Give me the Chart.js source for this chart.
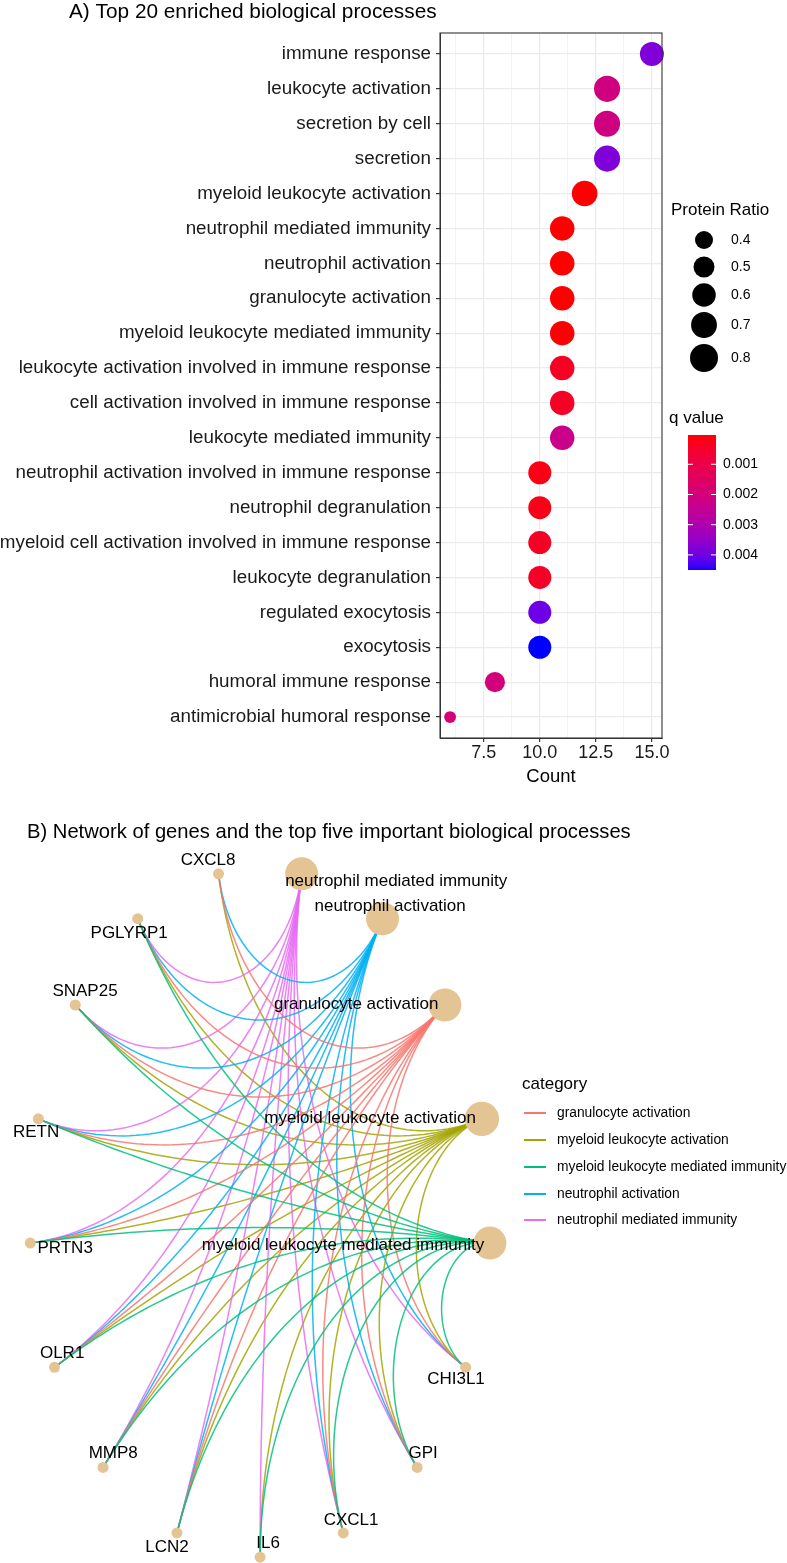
<!DOCTYPE html>
<html>
<head>
<meta charset="utf-8">
<script src="https://cdn.jsdelivr.net/npm/chart.js@4.4.0/dist/chart.umd.min.js"></script>
<style>
    html, body { margin: 0; padding: 0; background: #fff; }
    #wrap { position: relative; width: 787px; height: 1563px; }
    canvas { position: absolute; left: 0; }
    #dotChart { top: 0; }
    #netChart { top: 790px; }
</style>
</head>
<body>
<div id="wrap">
    <canvas id="dotChart" width="787" height="790"></canvas>
    <canvas id="netChart" width="787" height="773"></canvas>
</div>
<script>
// ---------- Panel A data ----------
const processes = [
    'immune response', 'leukocyte activation', 'secretion by cell', 'secretion',
    'myeloid leukocyte activation', 'neutrophil mediated immunity', 'neutrophil activation',
    'granulocyte activation', 'myeloid leukocyte mediated immunity',
    'leukocyte activation involved in immune response', 'cell activation involved in immune response',
    'leukocyte mediated immunity', 'neutrophil activation involved in immune response',
    'neutrophil degranulation', 'myeloid cell activation involved in immune response',
    'leukocyte degranulation', 'regulated exocytosis', 'exocytosis',
    'humoral immune response', 'antimicrobial humoral response'
];
const counts = [15, 13, 13, 13, 12, 11, 11, 11, 11, 11, 11, 11, 10, 10, 10, 10, 10, 10, 8, 6];
const proteinRatio = [0.62, 0.71, 0.71, 0.71, 0.69, 0.64, 0.64, 0.64, 0.64, 0.64, 0.64, 0.64,
                      0.58, 0.58, 0.58, 0.58, 0.58, 0.58, 0.47, 0.24];
const qValues = [0.0038, 0.0021, 0.0021, 0.0038, 0.00006, 0.00003, 0.00003, 0.00004, 0.00006,
                 0.00038, 0.0004, 0.0023, 0.0002, 0.00022, 0.00042, 0.00044, 0.004, 0.0045,
                 0.002, 0.0019];
const countMajorTicks = [7.5, 10, 12.5, 15];
const countMinorTicks = [6.25, 8.75, 11.25, 13.75];
const ratioKeys = [0.4, 0.5, 0.6, 0.7, 0.8];
const qKeys = [0.001, 0.002, 0.003, 0.004];

// ---------- Panel B data ----------
const genes = ['CXCL8', 'PGLYRP1', 'SNAP25', 'RETN', 'PRTN3', 'OLR1', 'MMP8', 'LCN2', 'IL6', 'CXCL1', 'GPI', 'CHI3L1'];
const geneX = [-0.18, -0.53, -0.80, -0.96, -0.995, -0.89, -0.68, -0.36, 0.0, 0.36, 0.68, 0.89];
const geneY = [0.98, 0.85, 0.60, 0.27, -0.09, -0.45, -0.74, -0.93, -1.0, -0.93, -0.74, -0.45];
const geneLabelX = [-0.225, -0.567, -0.758, -0.970, -0.844, -0.857, -0.636, -0.403, 0.035, 0.394, 0.706, 0.848];
const geneLabelY = [1.020, 0.809, 0.641, 0.232, -0.104, -0.409, -0.699, -0.971, -0.959, -0.893, -0.699, -0.484];

const terms = ['neutrophil mediated immunity', 'neutrophil activation', 'granulocyte activation',
               'myeloid leukocyte activation', 'myeloid leukocyte mediated immunity'];
const termX = [0.18, 0.53, 0.80, 0.96, 0.995];
const termY = [0.98, 0.85, 0.60, 0.27, -0.09];
const termCount = [11, 11, 11, 12, 11];
const termLabelX = [0.589, 0.563, 0.416, 0.476, 0.359];
const termLabelY = [0.959, 0.887, 0.603, 0.272, -0.096];

const allGenes = genes.slice();
const nmiGenes = genes.filter(g => g !== 'CXCL8');
const naGenes = genes.filter(g => g !== 'IL6');
const gaGenes = genes.filter(g => g !== 'IL6');
const mlaGenes = allGenes;
const mlmiGenes = genes.filter(g => g !== 'CXCL8');
const termGenes = [nmiGenes, naGenes, gaGenes, mlaGenes, mlmiGenes];

const legendTerms = ['granulocyte activation', 'myeloid leukocyte activation',
                     'myeloid leukocyte mediated immunity', 'neutrophil activation', 'neutrophil mediated immunity'];
const legendColors = ['#F8766D', '#A3A500', '#00BF7D', '#00B0F6', '#E76BF3'];

const FONT = '"Liberation Sans", Arial, Helvetica, sans-serif';

// ---------- helpers ----------
function ratioRadius(v) {
    return Math.sqrt(Math.max(4, 81 + 287 * (v - 0.4)));
}

function toLab(rgb) {
    const lin = rgb.map(c => {
        c /= 255;
        return c <= 0.04045 ? c / 12.92 : Math.pow((c + 0.055) / 1.055, 2.4);
    });
    let X = (0.4124 * lin[0] + 0.3576 * lin[1] + 0.1805 * lin[2]) / 0.95047;
    let Y = 0.2126 * lin[0] + 0.7152 * lin[1] + 0.0722 * lin[2];
    let Z = (0.0193 * lin[0] + 0.1192 * lin[1] + 0.9505 * lin[2]) / 1.08883;
    const f = t => t > 0.008856 ? Math.cbrt(t) : 7.787 * t + 16 / 116;
    const fx = f(X), fy = f(Y), fz = f(Z);
    return [116 * fy - 16, 500 * (fx - fy), 200 * (fy - fz)];
}

function fromLab(lab) {
    const fy = (lab[0] + 16) / 116, fx = fy + lab[1] / 500, fz = fy - lab[2] / 200;
    const inv = t => t > 0.206893 ? t * t * t : (t - 16 / 116) / 7.787;
    const X = inv(fx) * 0.95047, Y = inv(fy), Z = inv(fz) * 1.08883;
    const lin = [
        3.2406 * X - 1.5372 * Y - 0.4986 * Z,
        -0.9689 * X + 1.8758 * Y + 0.0415 * Z,
        0.0557 * X - 0.2040 * Y + 1.0570 * Z
    ];
    return lin.map(c => {
        c = Math.min(1, Math.max(0, c));
        c = c <= 0.0031308 ? 12.92 * c : 1.055 * Math.pow(c, 1 / 2.4) - 0.055;
        return Math.round(c * 255);
    });
}

const labLow = toLab([255, 0, 0]);
const labHigh = toLab([0, 0, 255]);
const qMin = Math.min(...qValues);
const qMax = Math.max(...qValues);

function qColor(q) {
    const t = Math.min(1, Math.max(0, (q - qMin) / (qMax - qMin)));
    const c = fromLab(labLow.map((v, i) => v + (labHigh[i] - v) * t));
    return `rgb(${c[0]},${c[1]},${c[2]})`;
}

// ---------- Panel A ----------
const panelA = {
    id: 'panelA',
    afterDraw(chart) {
        const ctx = chart.ctx;
        const area = chart.chartArea;
        ctx.save();
        // panel border
        ctx.strokeStyle = '#333';
        ctx.lineWidth = 1.1;
        ctx.strokeRect(area.left, area.top, area.right - area.left, area.bottom - area.top);

        // title
        ctx.fillStyle = '#000';
        ctx.font = `20.8px ${FONT}`;
        ctx.textAlign = 'left';
        ctx.textBaseline = 'alphabetic';
        ctx.fillText('A) Top 20 enriched biological processes', 69, 18);

        // size legend
        ctx.font = `17px ${FONT}`;
        ctx.textBaseline = 'middle';
        ctx.fillText('Protein Ratio', 671, 210);
        const keyY = [240, 267, 295, 325, 358];
        ctx.font = `14px ${FONT}`;
        ratioKeys.forEach((v, i) => {
            ctx.fillStyle = '#000';
            ctx.beginPath();
            ctx.arc(704, keyY[i], ratioRadius(v), 0, Math.PI * 2);
            ctx.fill();
            ctx.fillText(v.toFixed(1), 731, keyY[i]);
        });

        // colour bar
        ctx.font = `17px ${FONT}`;
        ctx.fillText('q value', 669, 418);
        const barTop = 435, barBottom = 570, barLeft = 688, barRight = 716;
        for (let y = barTop; y < barBottom; y++) {
            const q = qMin + (qMax - qMin) * (y + 0.5 - barTop) / (barBottom - barTop);
            ctx.fillStyle = qColor(q);
            ctx.fillRect(barLeft, y, barRight - barLeft, 1);
        }
        ctx.font = `14px ${FONT}`;
        qKeys.forEach(q => {
            const y = barTop + (q - qMin) / (qMax - qMin) * (barBottom - barTop);
            ctx.strokeStyle = '#fff';
            ctx.lineWidth = 1;
            ctx.beginPath();
            ctx.moveTo(barLeft, y); ctx.lineTo(barLeft + 5, y);
            ctx.moveTo(barRight - 5, y); ctx.lineTo(barRight, y);
            ctx.stroke();
            ctx.fillStyle = '#000';
            ctx.fillText(q.toFixed(3), 723, y);
        });
        ctx.restore();
    }
};

new Chart(document.getElementById('dotChart'), {
    type: 'bubble',
    data: {
        datasets: [{
            data: processes.map((p, i) => ({ x: counts[i], y: i, r: ratioRadius(proteinRatio[i]) })),
            backgroundColor: qValues.map(qColor),
            borderWidth: 0,
            hoverBorderWidth: 0,
            clip: false
        }]
    },
    options: {
        responsive: false,
        animation: false,
        devicePixelRatio: 1,
        events: [],
        layout: { padding: { top: 33, right: 125, left: 0, bottom: 0 } },
        plugins: { legend: { display: false }, tooltip: { enabled: false } },
        scales: {
            x: {
                type: 'linear',
                min: 5.55,
                max: 15.45,
                afterBuildTicks: axis => {
                    axis.ticks = countMinorTicks.concat(countMajorTicks).sort((a, b) => a - b).map(v => ({ value: v }));
                },
                afterFit: axis => { axis.height = 52; },
                ticks: {
                    autoSkip: false,
                    maxRotation: 0,
                    padding: 0,
                    color: '#1a1a1a',
                    font: { family: FONT, size: 18 },
                    callback: v => countMajorTicks.includes(v) ? v.toFixed(1) : ''
                },
                grid: {
                    color: '#EBEBEB',
                    lineWidth: c => countMajorTicks.includes(c.tick && c.tick.value) ? 1.2 : 0.6,
                    tickColor: c => countMajorTicks.includes(c.tick && c.tick.value) ? '#333' : 'rgba(0,0,0,0)',
                    tickLength: 4
                },
                border: { display: true, color: '#333', width: 1 },
                title: {
                    display: true,
                    text: 'Count',
                    color: '#000',
                    font: { family: FONT, size: 18.5 },
                    padding: { top: 0, bottom: 2 }
                }
            },
            y: {
                type: 'linear',
                reverse: true,
                min: -0.6,
                max: 19.6,
                afterBuildTicks: axis => {
                    axis.ticks = processes.map((p, i) => ({ value: i }));
                },
                afterFit: axis => { axis.width = 440; },
                ticks: {
                    autoSkip: false,
                    padding: 5,
                    color: '#1a1a1a',
                    font: { family: FONT, size: 18.8 },
                    callback: v => processes[v]
                },
                grid: { color: '#EBEBEB', lineWidth: 1.2, tickColor: '#333', tickLength: 4 },
                border: { display: true, color: '#333', width: 1 }
            }
        }
    },
    plugins: [panelA]
});

// ---------- Panel B ----------
function arcPoints(ax, ay, bx, by) {
    // circle arc orthogonal to the layout circle, as in a circular arc layout
    const a0 = Math.atan2(ay, ax), b0 = Math.atan2(by, bx);
    const ux = Math.cos(a0), uy = Math.sin(a0), vx = Math.cos(b0), vy = Math.sin(b0);
    const sx = ux + vx, sy = uy + vy, len = Math.hypot(sx, sy);
    const n = 60;
    const pts = [];
    if (len < 0.02) {
        for (let i = 0; i <= n; i++) {
            const t = i / n;
            pts.push([ax + (bx - ax) * t, ay + (by - ay) * t]);
        }
        return pts;
    }
    const cosT = len / 2;
    const ox = (sx / len) / cosT, oy = (sy / len) / cosT;
    const R = Math.sqrt(1 / (cosT * cosT) - 1);
    const s0 = Math.atan2(uy - oy, ux - ox), s1 = Math.atan2(vy - oy, vx - ox);
    let d = s1 - s0;
    while (d > Math.PI) d -= 2 * Math.PI;
    while (d < -Math.PI) d += 2 * Math.PI;
    for (let i = 0; i <= n; i++) {
        const t = i / n;
        const ang = s0 + d * t;
        let px = ox + R * Math.cos(ang), py = oy + R * Math.sin(ang);
        px += (ax - ux) * (1 - t) + (bx - vx) * t;
        py += (ay - uy) * (1 - t) + (by - vy) * t;
        pts.push([px, py]);
    }
    return pts;
}

function termColor(term) {
    return legendColors[legendTerms.indexOf(term)];
}

const edgeOrder = [3, 0, 1, 2, 4];

const panelB = {
    id: 'panelB',
    beforeDatasetsDraw(chart) {
        const ctx = chart.ctx;
        const xs = chart.scales.x, ys = chart.scales.y;
        ctx.save();
        ctx.lineWidth = 1.5;
        ctx.globalAlpha = 0.85;
        edgeOrder.forEach(ti => {
            ctx.strokeStyle = termColor(terms[ti]);
            termGenes[ti].forEach(g => {
                const gi = genes.indexOf(g);
                const pts = arcPoints(geneX[gi], geneY[gi], termX[ti], termY[ti]);
                ctx.beginPath();
                pts.forEach((p, k) => {
                    const px = xs.getPixelForValue(p[0]), py = ys.getPixelForValue(p[1]);
                    if (k === 0) ctx.moveTo(px, py); else ctx.lineTo(px, py);
                });
                ctx.stroke();
            });
        });
        ctx.restore();
    },
    afterDraw(chart) {
        const ctx = chart.ctx;
        const xs = chart.scales.x, ys = chart.scales.y;
        ctx.save();
        ctx.fillStyle = '#000';
        ctx.textAlign = 'center';
        ctx.textBaseline = 'middle';
        ctx.font = `17px ${FONT}`;
        genes.forEach((g, i) => {
            ctx.fillText(g, xs.getPixelForValue(geneLabelX[i]), ys.getPixelForValue(geneLabelY[i]));
        });
        terms.forEach((t, i) => {
            ctx.fillText(t, xs.getPixelForValue(termLabelX[i]), ys.getPixelForValue(termLabelY[i]));
        });

        // title
        ctx.textAlign = 'left';
        ctx.textBaseline = 'alphabetic';
        ctx.font = `20.2px ${FONT}`;
        ctx.fillText('B) Network of genes and the top five important biological processes', 27, 48);

        // legend
        ctx.textBaseline = 'middle';
        ctx.font = `17px ${FONT}`;
        ctx.fillText('category', 522, 294);
        ctx.font = `13.8px ${FONT}`;
        const rowY = [323, 350, 377, 404, 430];
        legendTerms.forEach((t, i) => {
            ctx.strokeStyle = legendColors[i];
            ctx.lineWidth = 2;
            ctx.beginPath();
            ctx.moveTo(524, rowY[i]);
            ctx.lineTo(546, rowY[i]);
            ctx.stroke();
            ctx.fillStyle = '#000';
            ctx.fillText(t, 557, rowY[i]);
        });
        ctx.restore();
    }
};

const nodeX = geneX.concat(termX);
const nodeY = geneY.concat(termY);
const nodeRadius = genes.map(() => 5.5).concat(termCount.map(c => 16.5 * Math.sqrt(c / 11)));

new Chart(document.getElementById('netChart'), {
    type: 'scatter',
    data: {
        datasets: [{
            data: nodeX.map((x, i) => ({ x: x, y: nodeY[i] })),
            pointRadius: nodeRadius,
            pointHoverRadius: nodeRadius,
            backgroundColor: '#E5C494',
            borderWidth: 0,
            clip: false
        }]
    },
    options: {
        responsive: false,
        animation: false,
        devicePixelRatio: 1,
        events: [],
        layout: { padding: 0, autoPadding: false },
        plugins: { legend: { display: false }, tooltip: { enabled: false } },
        scales: {
            x: { type: 'linear', min: -1.126, max: 2.281, display: false },
            y: { type: 'linear', min: -1.017, max: 1.223, display: false }
        }
    },
    plugins: [panelB]
});
</script>
</body>
</html>
